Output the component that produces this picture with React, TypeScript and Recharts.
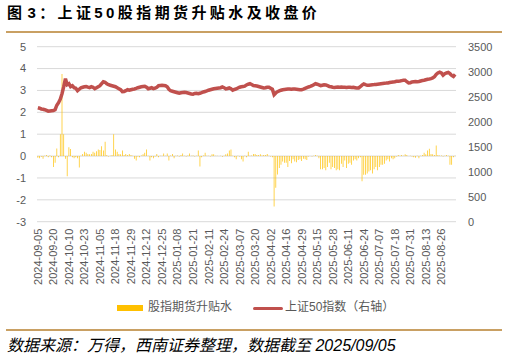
import React from 'react';
import { Bar, CartesianGrid, ComposedChart, Line, XAxis, YAxis } from 'recharts';

// 交易日休市（周末以外）
const HOLIDAYS = [
  '2024-09-16', '2024-09-17',
  '2024-10-01', '2024-10-02', '2024-10-03', '2024-10-04', '2024-10-07',
  '2025-01-01',
  '2025-01-28', '2025-01-29', '2025-01-30', '2025-01-31', '2025-02-03', '2025-02-04',
  '2025-04-04',
  '2025-05-01', '2025-05-02', '2025-05-05',
  '2025-06-02',
];

function tradingDays(start: string, end: string): string[] {
  const out: string[] = [];
  const d = new Date(start + 'T00:00:00Z');
  const last = new Date(end + 'T00:00:00Z');
  while (d <= last) {
    const s = d.toISOString().slice(0, 10);
    const wd = d.getUTCDay();
    if (wd !== 0 && wd !== 6 && !HOLIDAYS.includes(s)) out.push(s);
    d.setUTCDate(d.getUTCDate() + 1);
  }
  return out;
}

const DATES = tradingDays('2024-09-05', '2025-09-05');

// 股指期货升贴水（左轴）
const BASIS = [
  -0.08, -0.1, -0.03, -0.12, 0.02, 0.05, -0.05, 0.03, -0.05, -0.5,
  -0.3, 0.35, -0.05, 1.0, 3.75, 1.0, -0.12, -0.92, 0.4, 0.32,
  -0.05, -0.1, -0.05, -0.1, -0.52, 0.02, 0.1, 0.2, 0.15, 0.1,
  0.08, 0.1, 0.2, 0.15, 0.22, 0.3, 0.28, 0.45, 0.25, 0.65,
  0.05, -0.02, 0.02, 0.05, 1.0, 0.3, 0.2, 0.1, 0.08, 0.25,
  0.05, 0.1, 0.05, 0.1, 0.05, 0.02, -0.12, -0.2, -0.02, -0.05,
  0.03, 0.08, 0.15, 0.3, 0.02, -0.2, -0.05, -0.1, -0.02, 0.1,
  -0.05, 0.02, 0.02, 0.12, 0.02, 0.12, -0.2, 0.03, 0.1, -0.1,
  0.02, 0.03, -0.02, 0.05, 0.12, 0.02, -0.02, 0.03, 0.12, 0.02,
  0.03, -0.02, 0.02, 0.25, -0.48, -0.05, 0.03, 0.15, 0.02, 0.02,
  -0.02, 0.08, 0.08, 0.02, 0.02, 0.0, 0.02, -0.03, 0.02, 0.08,
  0.12, 0.25, 0.3, 0.02, -0.05, -0.15, 0.02, -0.02, -0.15, -0.25,
  0.02, -0.05, 0.2, 0.02, 0.03, 0.1, 0.1, 0.05, 0.05, 0.08,
  0.03, 0.05, 0.05, 0.1, 0.02, -0.02, -0.05, -2.3, -1.45, -0.84,
  -0.55, -0.4, -0.25, -0.3, -0.3, -0.5, -0.22, -0.33, -0.15, -0.25,
  -0.28, -0.18, -0.15, -0.22, -0.12, -0.15, -0.18, -0.02, 0.0, -0.02,
  0.02, 0.05, 0.02, -0.1, -0.6, -0.6, -0.55, -0.65, -0.5, -0.3,
  -0.6, -0.5, -0.55, -0.65, -0.6, -0.65, -0.35, -0.5, -0.2, -0.55,
  -0.35, -0.3, -0.4, -0.2, -0.15, -0.2, -0.1, -0.05, -1.15, -0.85,
  -0.85, -0.8, -0.7, -0.65, -0.8, -0.6, -0.5, -0.65, -0.5, -0.4,
  -0.4, -0.35, -0.2, -0.15, -0.25, -0.1, -0.15, -0.1, -0.02, 0.05,
  0.02, 0.05, 0.02, 0.08, 0.05, 0.0, 0.02, -0.02, -0.05, -0.08,
  0.02, -0.1, 0.02, 0.05, 0.15, 0.08, 0.25, 0.33, 0.1, 0.08,
  0.05, 0.48, 0.05, 0.03, 0.03, -0.02, 0.02, 0.05, 0.02, -0.4,
  -0.4, -0.05, 0.02,
];

// 上证50指数（右轴）
const SZ50 = [
  2280, 2270, 2255, 2250, 2240, 2225, 2210, 2215, 2220, 2225,
  2240, 2330, 2380, 2450, 2560, 2700, 2860, 2740, 2760, 2700,
  2720, 2680, 2670, 2620, 2650, 2680, 2690, 2700, 2705, 2690,
  2680, 2700, 2690, 2660, 2680, 2700, 2720, 2760, 2800, 2790,
  2760, 2740, 2730, 2720, 2710, 2700, 2680, 2660, 2640, 2600,
  2605, 2620, 2640, 2630, 2640, 2650, 2655, 2665, 2680, 2690,
  2700, 2705, 2710, 2690, 2660, 2670, 2680, 2660, 2670, 2690,
  2720, 2725, 2730, 2725, 2720, 2700, 2650, 2620, 2610, 2600,
  2590, 2580, 2570, 2580, 2585, 2590, 2585, 2575, 2565, 2555,
  2550, 2565, 2570, 2560, 2570, 2580, 2595, 2605, 2615, 2630,
  2640, 2650, 2660, 2665, 2670, 2675, 2680, 2695, 2680, 2655,
  2665, 2675, 2660, 2630, 2645, 2655, 2675, 2690, 2700, 2705,
  2710, 2735, 2750, 2760, 2745, 2725, 2720, 2715, 2705, 2695,
  2685, 2675, 2680, 2690, 2690, 2670, 2650, 2540, 2575, 2600,
  2615, 2630, 2640, 2645, 2650, 2655, 2655, 2650, 2655, 2655,
  2650, 2645, 2640, 2640, 2650, 2665, 2680, 2695, 2705, 2720,
  2740, 2760, 2750, 2735, 2720, 2730, 2740, 2735, 2720, 2705,
  2700, 2690, 2685, 2690, 2695, 2690, 2693, 2690, 2688, 2685,
  2690, 2688, 2685, 2688, 2680, 2672, 2675, 2700, 2730, 2755,
  2740, 2728, 2730, 2735, 2740, 2742, 2745, 2750, 2755, 2760,
  2765, 2770, 2772, 2775, 2785, 2790, 2795, 2800, 2808, 2810,
  2815, 2822, 2828, 2830, 2800, 2775, 2780, 2795, 2800, 2805,
  2800, 2805, 2815, 2825, 2830, 2840, 2850, 2855, 2862, 2875,
  2900, 2945, 2975, 2990, 2975, 2930, 2960, 2975, 2985, 2960,
  2925, 2905, 2945,
];

const LEFT_TICKS = [-3, -2, -1, 0, 1, 2, 3, 4, 5];
const RIGHT_TICKS = [0, 500, 1000, 1500, 2000, 2500, 3000, 3500];

const data = DATES.map((date, i) => ({ date, basis: BASIS[i], sz50: SZ50[i] }));

const TICK_FONT = '"Liberation Sans", Arial, sans-serif';
const CJK_FONT = '"Liberation Sans", "Noto Sans CJK SC", sans-serif';
const GRAY = '#595959';
const TAN = '#C9A063';

function DateTick({ x, y, payload }: any) {
  return (
    <text
      x={x}
      y={y}
      transform={`rotate(-90, ${x}, ${y})`}
      textAnchor="end"
      dy="0.36em"
      fill={GRAY}
      fontSize={11}
      fontFamily={TICK_FONT}
    >
      {payload.value}
    </text>
  );
}

export default function App() {
  return (
    <div style={{ position: 'absolute', left: 0, top: 0, width: 508, height: 360, background: '#fff', overflow: 'hidden' }}>
      <div
        style={{
          position: 'absolute',
          left: 7,
          top: 5,
          fontFamily: CJK_FONT,
          fontWeight: 'bold',
          fontSize: 15,
          lineHeight: '16px',
          letterSpacing: 3.4,
          color: '#000',
          whiteSpace: 'nowrap',
        }}
      >
        图<span style={{ marginLeft: 2 }}>3</span>：上证50股指期货升贴水及收盘价
      </div>
      <div style={{ position: 'absolute', left: 6, top: 31, width: 496, height: 2, background: TAN }} />

      <div style={{ position: 'absolute', left: 0, top: 0 }}>
        <ComposedChart
          width={508}
          height={300}
          data={data}
          margin={{ top: 46.7, right: 0, bottom: 0, left: 0 }}
          barCategoryGap="30%"
        >
          <CartesianGrid yAxisId="left" vertical={false} stroke="#D9D9D9" strokeWidth={1} />
          <XAxis
            dataKey="date"
            interval={8}
            height={78.3}
            tickLine={false}
            axisLine={false}
            tickMargin={1}
            tick={<DateTick />}
          />
          <YAxis
            yAxisId="left"
            orientation="left"
            width={37}
            domain={[-3, 5]}
            ticks={LEFT_TICKS}
            interval={0}
            tickLine={false}
            axisLine={false}
            tickMargin={5}
            tick={{ fill: GRAY, fontSize: 11, fontFamily: TICK_FONT }}
          />
          <YAxis
            yAxisId="right"
            orientation="right"
            width={52}
            domain={[0, 3500]}
            ticks={RIGHT_TICKS}
            interval={0}
            tickLine={false}
            axisLine={false}
            tickMargin={6}
            tick={{ fill: GRAY, fontSize: 11, fontFamily: TICK_FONT, textAnchor: 'start' }}
          />
          <Bar yAxisId="left" dataKey="basis" fill="#FFC000" isAnimationActive={false} />
          <Line
            yAxisId="right"
            dataKey="sz50"
            type="linear"
            stroke="#C0504D"
            strokeWidth={3.5}
            dot={false}
            activeDot={false}
            isAnimationActive={false}
          />
        </ComposedChart>
      </div>

      <div style={{ position: 'absolute', left: 117, top: 305, width: 26, height: 5.5, background: '#FFC000' }} />
      <div
        style={{
          position: 'absolute',
          left: 148,
          top: 299,
          fontFamily: CJK_FONT,
          fontSize: 12,
          lineHeight: '16px',
          color: GRAY,
          whiteSpace: 'nowrap',
        }}
      >
        股指期货升贴水
      </div>
      <div style={{ position: 'absolute', left: 253, top: 306.5, width: 30, height: 3, borderRadius: 2, background: '#C0504D' }} />
      <div
        style={{
          position: 'absolute',
          left: 285,
          top: 299,
          fontFamily: CJK_FONT,
          fontSize: 12,
          lineHeight: '16px',
          color: GRAY,
          whiteSpace: 'nowrap',
        }}
      >
        上证50指数（右轴）
      </div>

      <div style={{ position: 'absolute', left: 6, top: 328.5, width: 496, height: 2, background: TAN }} />
      <div
        style={{
          position: 'absolute',
          left: 7,
          top: 337,
          fontFamily: CJK_FONT,
          fontStyle: 'italic',
          fontSize: 16,
          lineHeight: '18px',
          color: '#000',
          whiteSpace: 'nowrap',
        }}
      >
        数据来源：万得，西南证券整理，数据截至 2025/09/05
      </div>
    </div>
  );
}
